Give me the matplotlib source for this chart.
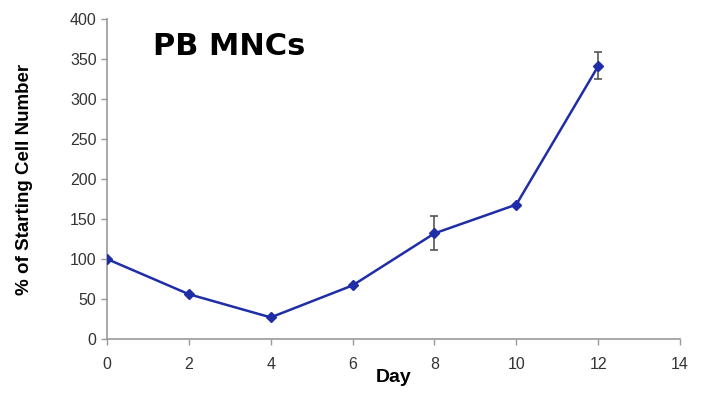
import matplotlib
matplotlib.use('Agg')
import matplotlib.pyplot as plt

# growth of PB MNCs relative to day 0
days = [0, 2, 4, 6, 8, 10, 12]
pct_start = [100, 56, 27, 67, 132, 168, 341]
err_low = [0, 0, 0, 0, 21, 0, 16]
err_high = [0, 0, 0, 0, 22, 0, 18]

plt.rcParams['font.family'] = ['Liberation Sans', 'DejaVu Sans']

fig = plt.figure(figsize=(7.1, 3.94), dpi=100)
ax = fig.add_axes([107/710, 1-339/394, (680-107)/710, (339-19)/394])

line_col = '#1f2da6'
ax.errorbar(days, pct_start, yerr=[err_low, err_high], fmt='none',
            ecolor='#555555', elinewidth=1.2, capsize=3, capthick=1.2, zorder=2)
ax.plot(days, pct_start, color=line_col, lw=1.8, marker='D', ms=5,
        mfc=line_col, mec=line_col, zorder=3)

ax.set_xlim(0, 14)
ax.set_ylim(0, 400)
ax.set_xticks(range(0, 15, 2))
ax.set_yticks(range(0, 401, 50))
for s in ['top', 'right']:
  ax.spines[s].set_visible(False)
for s in ['left', 'bottom']:
  ax.spines[s].set_color('#999999')
  ax.spines[s].set_linewidth(1.2)
ax.tick_params(colors='#999999', labelcolor='#333333', labelsize=11.5,
               length=4, width=1)
ax.tick_params(axis='x', pad=9)

ax.set_xlabel('Day', fontsize=14, fontweight='bold', labelpad=-2)
ax.set_ylabel('% of Starting Cell Number', fontsize=13.5, fontweight='bold')
ax.yaxis.set_label_coords(-0.13, 0.5)
ax.text(0.08, 0.915, 'PB MNCs', transform=ax.transAxes, fontsize=22,
        fontweight='bold', va='center', ha='left',
        family=['DejaVu Sans'])

plt.savefig('out.png', dpi=100)
plt.close()
